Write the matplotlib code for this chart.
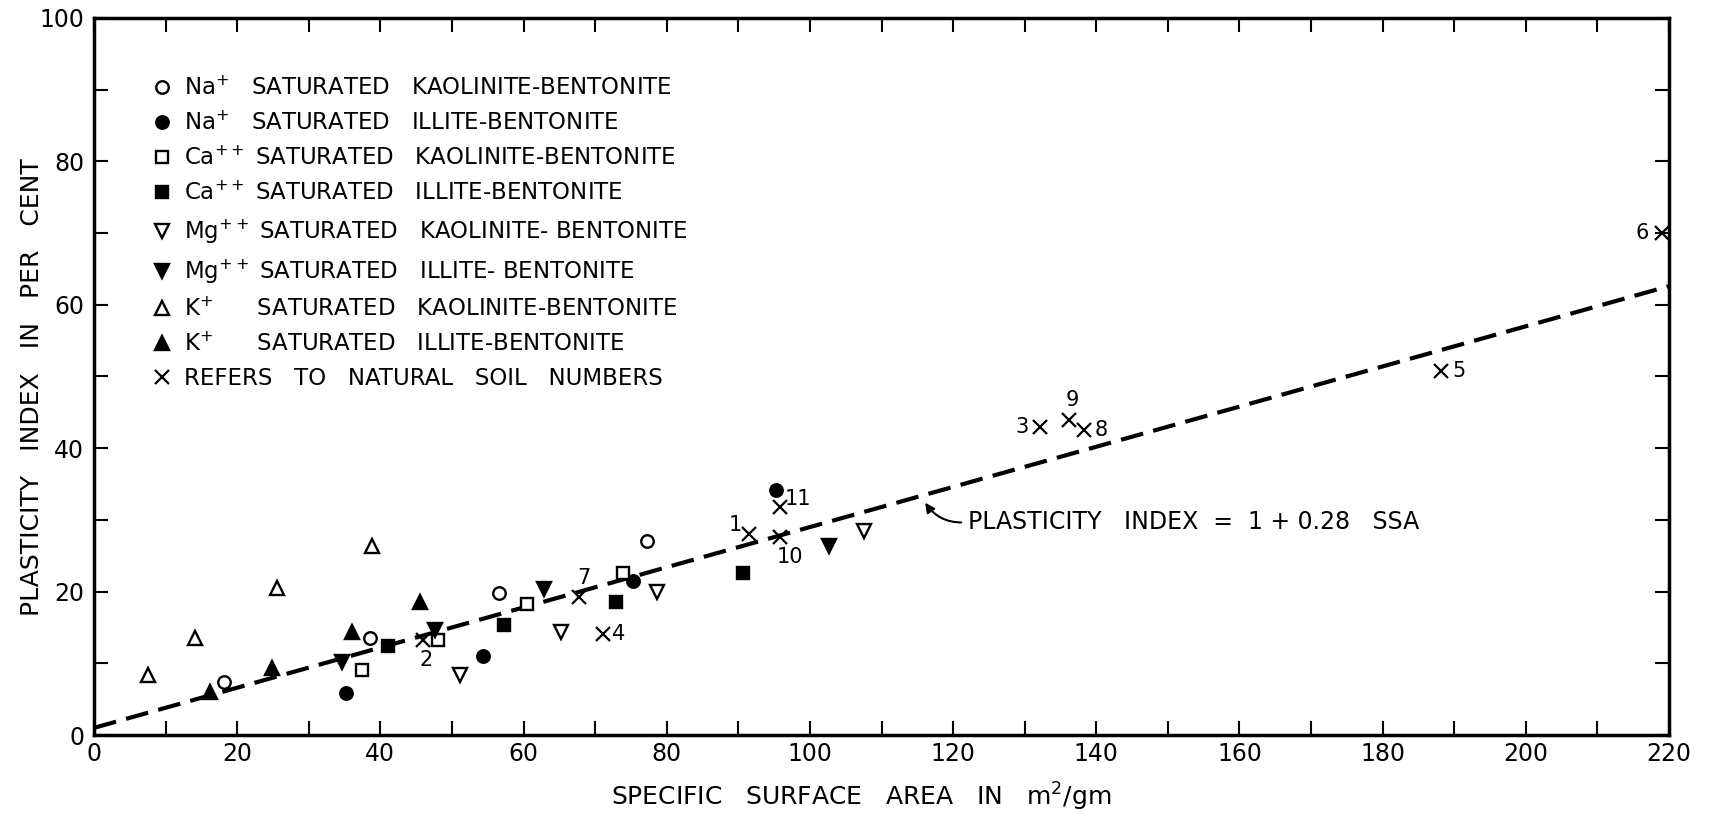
import numpy as np
import matplotlib
matplotlib.use('Agg')
import matplotlib.pyplot as plt
from matplotlib.lines import Line2D
from matplotlib.ticker import MultipleLocator

plt.rcParams['font.family'] = ['DejaVu Sans']
plt.rcParams['mathtext.default'] = 'regular'

# Datos: (SSA en m2/gm, indice de plasticidad %)
na_kao_x = [18.2, 38.5, 56.6, 77.2]
na_kao_y = [7.4, 13.5, 19.8, 27.1]
na_ill_x = [35.2, 54.3, 75.3, 95.3]
na_ill_y = [5.8, 11.0, 21.5, 34.1]
ca_kao_x = [37.5, 48.1, 60.5, 73.9]
ca_kao_y = [9.0, 13.2, 18.3, 22.6]
ca_ill_x = [41.1, 57.3, 72.9, 90.7]
ca_ill_y = [12.4, 15.3, 18.5, 22.6]
mg_kao_x = [51.1, 65.2, 78.6, 107.5]
mg_kao_y = [8.4, 14.4, 20.0, 28.4]
mg_ill_x = [34.6, 47.6, 62.8, 102.6]
mg_ill_y = [10.2, 14.6, 20.3, 26.3]
k_kao_x = [7.6, 14.1, 25.5, 38.9]
k_kao_y = [8.4, 13.5, 20.5, 26.3]
k_ill_x = [16.2, 24.8, 36.0, 45.6]
k_ill_y = [6.0, 9.3, 14.4, 18.6]

# Suelos naturales
soil_num = ['1', '2', '3', '4', '5', '6', '7', '8', '9', '10', '11']
soil_x = [91.5, 46.0, 132.1, 71.1, 188.2, 219.0, 67.7, 138.3, 136.2, 95.8, 95.8]
soil_y = [28.0, 13.2, 43.0, 14.1, 50.7, 70.0, 19.2, 42.5, 44.0, 27.6, 31.8]
# desplazamiento de la etiqueta (puntos)
soil_off = [(-10, 7), (2, -14), (-13, 0), (11, 0), (13, 0), (-14, 0),
            (4, 14), (12, 0), (2, 14), (7, -14), (13, 6)]

# Recta de ajuste: PI = 1 + 0.28 SSA
fit_x = [0, 220]
fit_y = [1.0, 62.6]

series = [
    (na_kao_x, na_kao_y, 'o', 'white', 'Na$^{+}$   SATURATED   KAOLINITE-BENTONITE'),
    (na_ill_x, na_ill_y, 'o', 'black', 'Na$^{+}$   SATURATED   ILLITE-BENTONITE'),
    (ca_kao_x, ca_kao_y, 's', 'white', 'Ca$^{++}$ SATURATED   KAOLINITE-BENTONITE'),
    (ca_ill_x, ca_ill_y, 's', 'black', 'Ca$^{++}$ SATURATED   ILLITE-BENTONITE'),
    (mg_kao_x, mg_kao_y, 'v', 'white', 'Mg$^{++}$ SATURATED   KAOLINITE- BENTONITE'),
    (mg_ill_x, mg_ill_y, 'v', 'black', 'Mg$^{++}$ SATURATED   ILLITE- BENTONITE'),
    (k_kao_x, k_kao_y, '^', 'white', 'K$^{+}$      SATURATED   KAOLINITE-BENTONITE'),
    (k_ill_x, k_ill_y, '^', 'black', 'K$^{+}$      SATURATED   ILLITE-BENTONITE'),
]

fig = plt.figure(figsize=(17.09, 8.14), dpi=100)
ax = fig.add_axes([0.055, 0.097, 0.9216, 0.881])

ax.plot(fit_x, fit_y, color='black', lw=3, dashes=(5.5, 2.5), zorder=2)

handles = []
labels = []
for xs, ys, mk, fc, lab in series:
    ms = 10 if mk in ('v', '^') else 9
    ax.plot(xs, ys, ls='none', marker=mk, mfc=fc, mec='black', ms=ms, mew=1.7, zorder=3)
    handles.append(Line2D([], [], ls='none', marker=mk, mfc=fc, mec='black', ms=ms, mew=1.7))
    labels.append(lab)

ax.plot(soil_x, soil_y, ls='none', marker='x', color='black', ms=10, mew=1.6,
        zorder=3, clip_on=False)
for n, x, y, off in zip(soil_num, soil_x, soil_y, soil_off):
    ax.annotate(n, (x, y), xytext=off, textcoords='offset points',
                ha='center', va='center', fontsize=15)
handles.append(Line2D([], [], ls='none', marker='x', color='black', ms=10, mew=1.6))
labels.append('REFERS   TO   NATURAL   SOIL   NUMBERS')

ax.annotate('PLASTICITY   INDEX  =  1 + 0.28   SSA', xy=(116.1, 32.4), xytext=(122.1, 29.7),
            fontsize=17, ha='left', va='center',
            arrowprops=dict(arrowstyle='-|>', color='black', lw=1.5, mutation_scale=14,
                            relpos=(0, 0.5), shrinkA=3, shrinkB=0,
                            connectionstyle='arc3,rad=-0.3'))

ax.legend(handles, labels, loc='upper left', bbox_to_anchor=(0.036, 0.918),
          frameon=False, fontsize=16.5, handlelength=1.0, handletextpad=0.45,
          labelspacing=0.5, borderaxespad=0, borderpad=0)

ax.set_xlim(0, 220)
ax.set_ylim(0, 100)
ax.xaxis.set_major_locator(MultipleLocator(20))
ax.xaxis.set_minor_locator(MultipleLocator(10))
ax.yaxis.set_major_locator(MultipleLocator(20))
ax.yaxis.set_minor_locator(MultipleLocator(10))
ax.tick_params(which='both', direction='in', length=10, width=1.5,
               top=True, right=True)
ax.tick_params(axis='x', labelsize=17, pad=5)
ax.tick_params(axis='y', labelsize=17, pad=7)
for s in ax.spines.values():
    s.set_linewidth(2.5)

ax.set_xlabel('SPECIFIC   SURFACE   AREA   IN   m$^{2}$/gm', fontsize=18, va='center')
ax.xaxis.set_label_coords(0.487, -0.086)
ax.set_ylabel('PLASTICITY   INDEX   IN   PER   CENT', fontsize=18)
ax.yaxis.set_label_coords(-0.032, 0.485)

fig.savefig('out.png', dpi=100)
